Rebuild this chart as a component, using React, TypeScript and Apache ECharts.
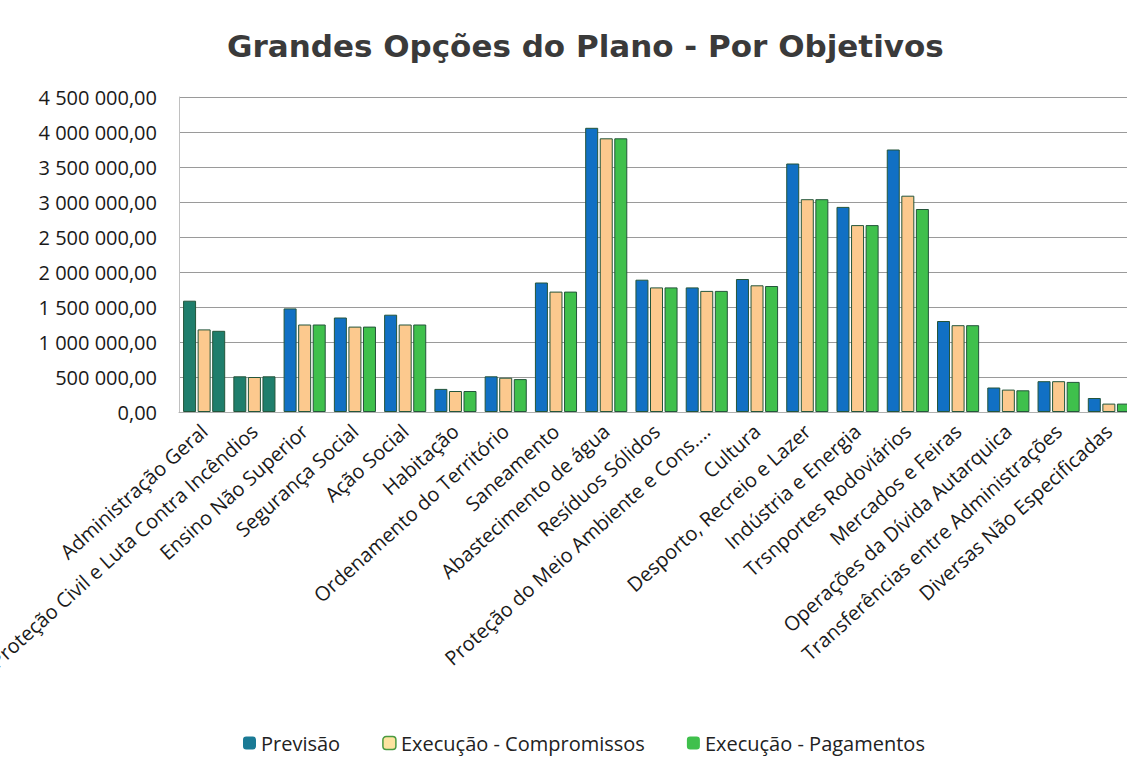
import React, { useEffect, useRef } from "react";
import * as echarts from "echarts";

const categories = [
  "Administração Geral",
  "Proteção Civil e Luta Contra Incêndios",
  "Ensino Não Superior",
  "Segurança Social",
  "Ação Social",
  "Habitação",
  "Ordenamento do Território",
  "Saneamento",
  "Abastecimento de água",
  "Resíduos Sólidos",
  "Proteção do Meio Ambiente e Cons....",
  "Cultura",
  "Desporto, Recreio e Lazer",
  "Indústria e Energia",
  "Trsnportes Rodoviários",
  "Mercados e Feiras",
  "Operações da Dívida Autarquica",
  "Transferências entre Administrações",
  "Diversas Não Especificadas",
];

const previsao = [1590000, 510000, 1480000, 1350000, 1390000, 330000, 510000, 1850000, 4060000, 1890000, 1780000, 1900000, 3550000, 2930000, 3750000, 1300000, 350000, 440000, 200000];
const compromissos = [1180000, 500000, 1250000, 1220000, 1250000, 300000, 490000, 1720000, 3910000, 1780000, 1730000, 1810000, 3040000, 2670000, 3090000, 1240000, 320000, 440000, 120000];
const pagamentos = [1160000, 510000, 1250000, 1220000, 1250000, 300000, 470000, 1720000, 3910000, 1780000, 1730000, 1800000, 3040000, 2670000, 2900000, 1240000, 310000, 430000, 120000];

const seriesNames = ["Previsão", "Execução - Compromissos", "Execução - Pagamentos"];
const yTicks = { min: 0, max: 4500000, interval: 500000 };

// the first two category groups appear teal in the scanned reference
const tealIdx = [0, 1];

const BLUE = "#1170c4";
const ORANGE = "#fcc98e";
const GREEN = "#3fc04c";
const TEAL = "#1f7e6c";
const BORDER = "#24553a";

function fmt(v: number) {
  return Math.round(v).toString().replace(/\B(?=(\d{3})+(?!\d))/g, " ") + ",00";
}

function withTeal(arr: number[]) {
  return arr.map((v, i) => (tealIdx.includes(i) ? { value: v, itemStyle: { color: TEAL } } : v));
}

export default function App() {
  const ref = useRef<HTMLDivElement>(null);
  useEffect(() => {
    if (!ref.current) return;
    const chart = echarts.init(ref.current, undefined, { renderer: "svg" });
    const font = "'Open Sans', 'Noto Sans', sans-serif";
    chart.setOption({
      animation: false,
      backgroundColor: "#ffffff",
      title: {
        text: "Grandes Opções do Plano - Por Objetivos",
        left: 222,
        top: 25,
        textStyle: {
          fontFamily: "'DejaVu Sans', sans-serif",
          fontWeight: "bold",
          fontSize: 31,
          color: "#3a3a3a",
        },
      },
      legend: {
        bottom: 0,
        left: 238,
        itemWidth: 13,
        itemHeight: 13,
        itemGap: 42,
        textStyle: { fontFamily: font, fontSize: 20, color: "#222" },
        data: [
          { name: seriesNames[0], itemStyle: { color: "#1a7a95", borderWidth: 0 } },
          { name: seriesNames[1], itemStyle: { color: "#fde3a0", borderColor: "#4a9a40", borderWidth: 1.5 } },
          { name: seriesNames[2], itemStyle: { color: GREEN, borderWidth: 0 } },
        ],
      },
      grid: {
        left: 179,
        right: -7,
        top: 97,
        bottom: 346,
        outerBoundsMode: "none",
      },
      xAxis: {
        type: "category",
        data: categories,
        axisLine: { show: true, lineStyle: { color: "#b0b0b0" } },
        axisTick: { show: false },
        axisLabel: {
          interval: 0,
          rotate: 42,
          margin: 16,
          fontFamily: font,
          fontSize: 20,
          color: "#1a1a1a",
        },
      },
      yAxis: {
        type: "value",
        min: yTicks.min,
        max: yTicks.max,
        interval: yTicks.interval,
        axisLine: { show: true, lineStyle: { color: "#c0c0c0" } },
        axisTick: { show: false },
        splitLine: { show: true, lineStyle: { color: "#9a9a9a", width: 1 } },
        axisLabel: {
          formatter: (v: number) => fmt(v),
          margin: 22,
          fontFamily: font,
          fontSize: 20,
          color: "#1a1a1a",
        },
      },
      series: [
        {
          name: seriesNames[0],
          type: "bar",
          data: withTeal(previsao),
          barWidth: 13,
          barGap: "12%",
          itemStyle: { color: BLUE, borderColor: BORDER, borderWidth: 1 },
        },
        {
          name: seriesNames[1],
          type: "bar",
          data: compromissos,
          barWidth: 13,
          barGap: "12%",
          itemStyle: { color: ORANGE, borderColor: BORDER, borderWidth: 1 },
        },
        {
          name: seriesNames[2],
          type: "bar",
          data: withTeal(pagamentos),
          barWidth: 13,
          barGap: "12%",
          itemStyle: { color: GREEN, borderColor: BORDER, borderWidth: 1 },
        },
      ],
    });
    return () => chart.dispose();
  }, []);
  return <div ref={ref} style={{ position: "fixed", left: 0, top: 0, width: 1127, height: 758 }} />;
}
